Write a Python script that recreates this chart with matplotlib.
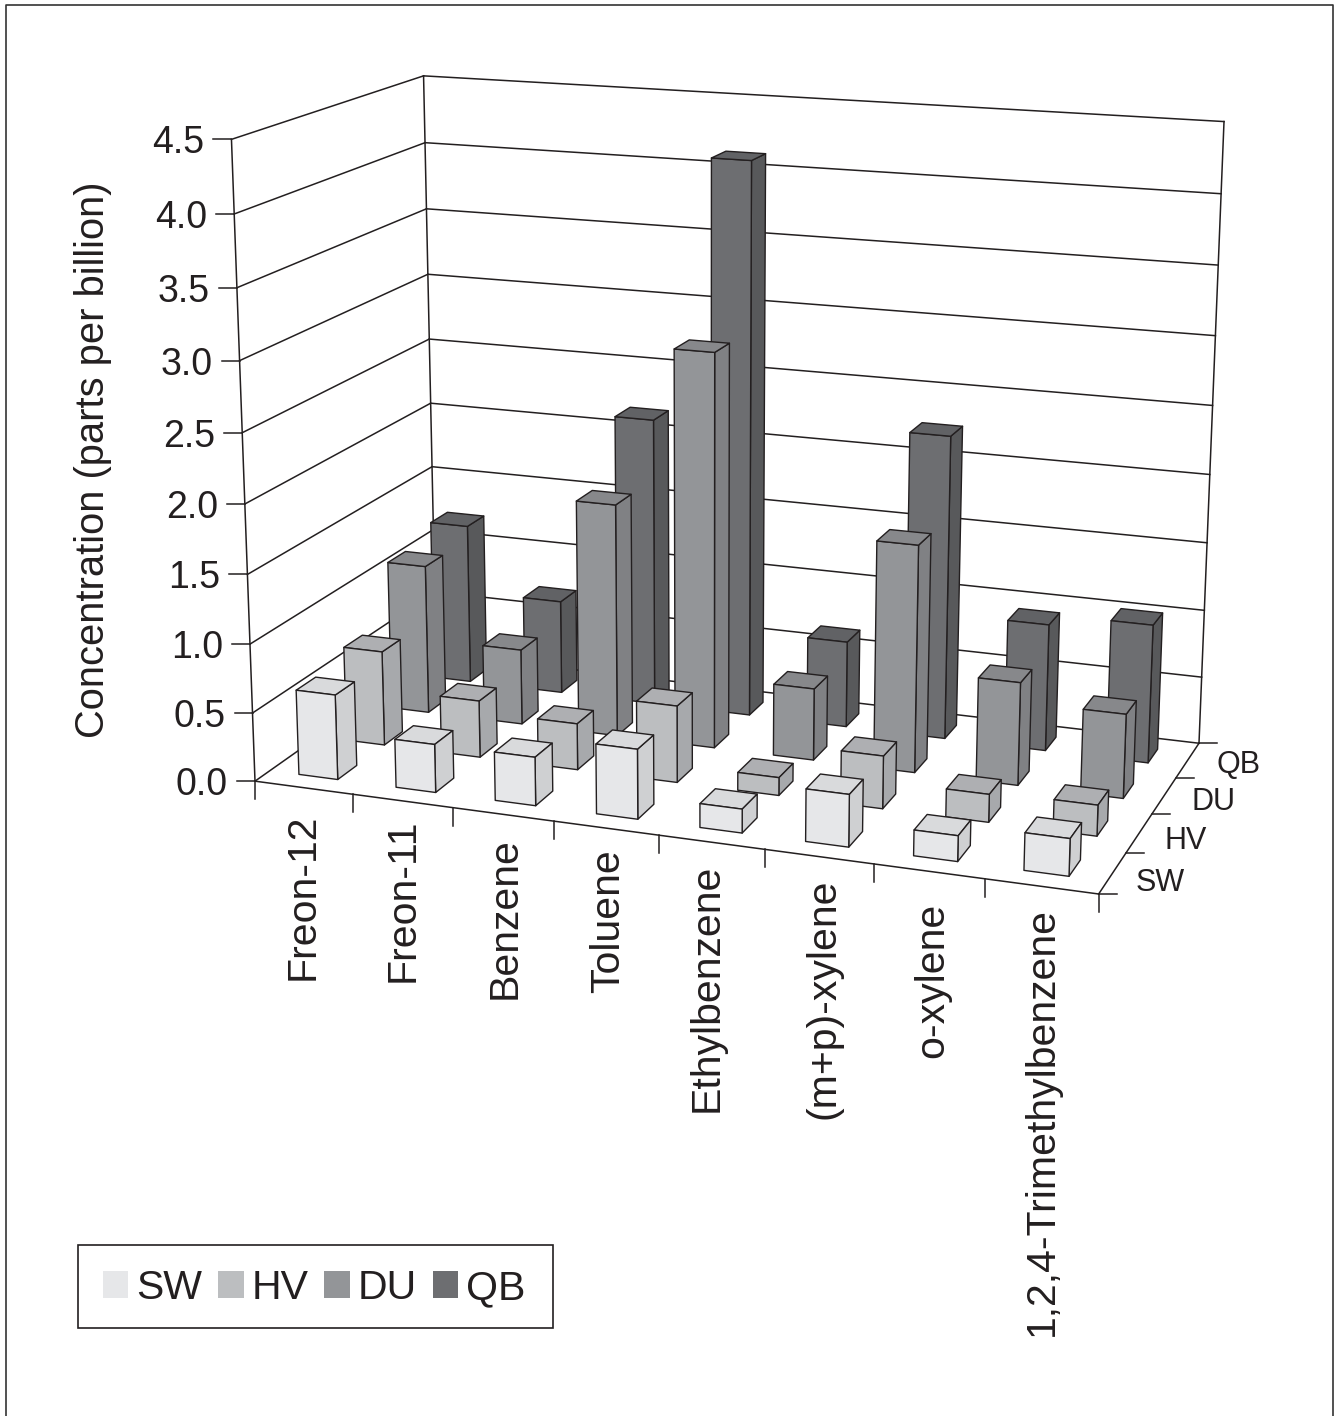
import numpy as np
import matplotlib
matplotlib.use('Agg')
import matplotlib.pyplot as plt
from matplotlib.lines import Line2D
from matplotlib.patches import Patch, Rectangle
from matplotlib.transforms import Affine2D

W, H = 1340, 1416

compounds = ['Freon-12', 'Freon-11', 'Benzene', 'Toluene', 'Ethylbenzene',
             '(m+p)-xylene', 'o-xylene', '1,2,4-Trimethylbenzene']
sites = ['SW', 'HV', 'DU', 'QB']
sw = [0.62, 0.35, 0.35, 0.50, 0.17, 0.37, 0.18, 0.26]
hv = [0.70, 0.42, 0.34, 0.56, 0.13, 0.38, 0.20, 0.22]
du = [1.12, 0.565, 1.73, 2.90, 0.53, 1.66, 0.75, 0.61]
qb = [1.22, 0.71, 2.17, 4.12, 0.645, 2.25, 0.94, 1.02]
z_ticks = [0.0, 0.5, 1.0, 1.5, 2.0, 2.5, 3.0, 3.5, 4.0, 4.5]

# face colours per site: front, top, side
front = ['#e6e7e9', '#bcbec0', '#939598', '#6d6e71']
top = ['#d9dadc', '#aeafb2', '#87888b', '#616265']
side = ['#cfd0d2', '#a7a9ac', '#808184', '#58595b']
ink = '#231f20'

# camera: world points (compound, site, conc) and where they sit in the picture
world = np.array([[0, 0, 0], [0, 0, 0.5], [0, 0, 1], [0, 0, 1.5], [0, 0, 4.5],
                  [0, 4, 4.5], [0, 4, 4], [0, 4, 3.5], [0, 4, 1],
                  [8, 4, 4.5], [8, 4, 1], [8, 4, 0.5], [8, 4, 0],
                  [8, 0, 0], [4, 0, 0], [8, 1, 0], [8, 2, 0], [8, 3, 0]], dtype=float)
image = np.array([[255, 779], [253, 713], [250, 644], [248, 573], [230, 141],
                  [424, 75], [426, 142], [427, 208], [432, 533],
                  [1224, 122], [1203, 610], [1201, 677], [1199, 742],
                  [1098, 894], [658, 837], [1127, 853], [1153, 815], [1177, 777]], dtype=float)


def fit_camera(w, p):
    rows, rhs = [], []
    for (x, y, z), (u, v) in zip(w, p):
        rows.append([x, y, z, 1, 0, 0, 0, 0, -u*x, -u*y, -u*z])
        rows.append([0, 0, 0, 0, x, y, z, 1, -v*x, -v*y, -v*z])
        rhs += [u, v]
    s = np.linalg.lstsq(np.array(rows), np.array(rhs), rcond=None)[0]
    return np.append(s, 1.0).reshape(3, 4)


P = fit_camera(world, image)


def to_px(x, y, z):
    u, v, w = P @ np.array([x, y, z, 1.0])
    return u/w, v/w


plt.rcParams['font.family'] = ['Liberation Sans', 'DejaVu Sans']
fig = plt.figure(figsize=(W/100, H/100), dpi=100)
ax = fig.add_axes([0, 0, 1, 1], projection='3d', computed_zorder=False)
ax.set_axis_off()


def get_proj():
    # picture pixels -> axes 2d data, redone at draw time
    flip = np.array([[1, 0, 0], [0, -1, H], [0, 0, 1.0]])
    A = np.linalg.inv(ax.transData.get_matrix()) @ flip @ P
    return np.array([A[0], A[1], [0, 0, 0, -1.0], A[2]])


ax.get_proj = get_proj


def line3(x, y, z, lw=1.1):
    ax.plot(x, y, z, color=ink, lw=lw, zorder=1, clip_on=False)


for z in z_ticks:
    line3([0, 0], [0, 4], [z, z])
    line3([0, 8], [4, 4], [z, z])
line3([0, 0], [0, 0], [0, 4.5])
line3([0, 0], [4, 4], [0, 4.5])
line3([8, 8], [4, 4], [0, 4.5])
line3([0, 8], [0, 0], [0, 0])
line3([8, 8], [0, 4], [0, 0])

# bars, back row first, right to left inside a row
values = [sw, hv, du, qb]
order = 2
for j in [3, 2, 1, 0]:
    for i in range(7, -1, -1):
        none = (0, 0, 0, 0)
        # faces: -z, +z, -y, +y, -x, +x
        fc = [none, top[j], front[j], none, none, side[j]]
        ec = ['none', ink, ink, 'none', 'none', ink]
        ax.bar3d(i*0.995 + 0.3, j + 0.3, 0, 0.4, 0.4, values[j][i], color=fc, edgecolor=ec,
                 linewidth=1.0, shade=False, zorder=order)
        order += 1

pix = Affine2D().scale(1, -1).translate(0, H)


def tick(x, y, z, dx, dy):
    u, v = to_px(x, y, z)
    fig.add_artist(Line2D([u, u + dx], [v, v + dy], color=ink, lw=1.1, transform=pix))


for z in z_ticks:
    tick(0, 0, z, -18, 0)
    u, v = to_px(0, 0, z)
    fig.text(u - 27, v, '%.1f' % z, ha='right', va='center_baseline', fontsize=27,
             color=ink, transform=pix)

for i in range(9):
    tick(i, 0, 0, 0, 18)
label_bottom = [980, 982, 999, 993, 1112, 1119, 1058, 1336]
label_dx = [0, 1, 2, 3, -4, 5, 4, 1]
for i, name in enumerate(compounds):
    u, v = to_px(i + 0.5, 0, 0)
    fig.text(u - 1 + label_dx[i], label_bottom[i], name, rotation=90, ha='center', va='bottom',
             fontsize=29.5, color=ink, transform=pix)

for j in range(5):
    tick(8, j, 0, 18, 0)
for j, name in enumerate(sites):
    u, v = to_px(8, j + 0.5, 0)
    fig.text(u + 23 + j*2, v + 6 - j*1.7, name, ha='left', va='center_baseline', fontsize=22,
             color=ink, transform=pix)

fig.text(93, 460, 'Concentration (parts per billion)', rotation=90, ha='center', va='center',
         fontsize=28.7, color=ink, transform=pix)

# outer frame, runs off the bottom of the page
fig.add_artist(Line2D([6, 6, 1333, 1333], [H + 5, 5, 5, H + 5], color='#333333', lw=1.2, transform=pix))

# legend box drawn on its own so the entries can sit a little low in it
fig.add_artist(Rectangle((78, 1245), 475, 83, facecolor='white', edgecolor=ink, lw=1.2, transform=pix))
handles = [Patch(facecolor=c, edgecolor='none') for c in front]
leg = fig.legend(handles, sites, loc='lower left', bbox_to_anchor=(103/W, 1 - 1307/H), ncol=4,
                 fontsize=29.5, frameon=False, handlelength=0.62, handleheight=0.62,
                 handletextpad=0.2, columnspacing=0.38, borderpad=0, borderaxespad=0,
                 labelcolor=ink)
leg.set_zorder(5)

fig.savefig('out.png', dpi=100)
